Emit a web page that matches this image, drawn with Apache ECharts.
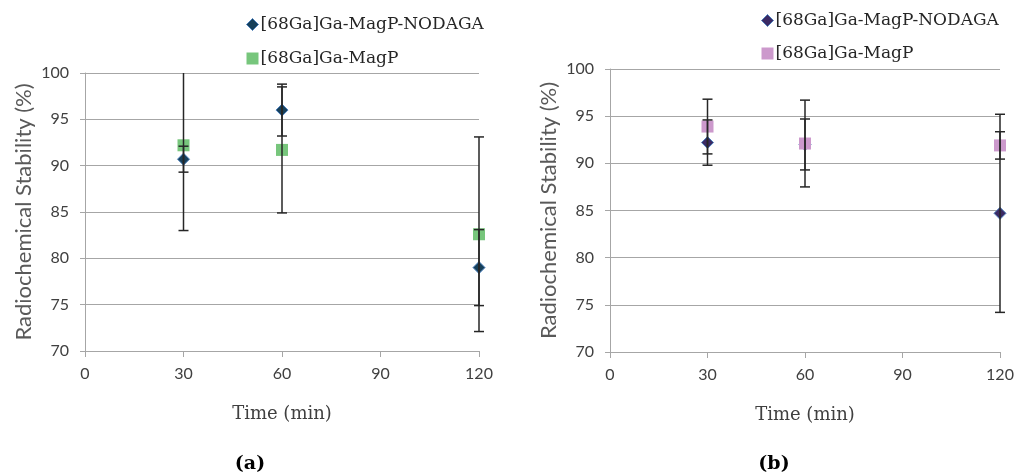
<!DOCTYPE html>
<html>
<head>
<meta charset="utf-8">
<script src="https://cdn.jsdelivr.net/npm/echarts@6/dist/echarts.min.js"></script>
<style>
html,body{margin:0;padding:0;background:#fff;}
#chart{width:1017px;height:476px;}
</style>
</head>
<body>
<div id="chart"></div>
<script>
// ---- data ----
const times = [30, 60, 120];
const xTicks = [0, 30, 60, 90, 120];
const yTicks = [70, 75, 80, 85, 90, 95, 100];
const seriesNames = ['[68Ga]Ga-MagP-NODAGA', '[68Ga]Ga-MagP'];

const aNodaga = [90.7, 96.0, 79.0];
const aNodagaErr = [1.4, 2.8, 4.1];
const aMagP = [92.2, 91.7, 82.6];
const aMagPErr = [9.2, 6.8, 10.5];

const bNodaga = [92.2, 92.0, 84.7];
const bNodagaErr = [2.4, 2.7, 10.5];
const bMagP = [93.9, 92.1, 91.9];
const bMagPErr = [2.9, 4.6, 1.45];

const panelLabels = ['(a)', '(b)'];
const xTitle = 'Time (min)';
const yTitle = 'Radiochemical Stability (%)';

// ---- styles ----
const colors = {
  aNodaga: '#17405a', aMagP: '#77c67c',
  bNodaga: '#3b2a64', bMagP: '#cc99cc',
  outline: '#4a7ebb'
};
const serif = '"DejaVu Serif", "Liberation Serif", serif';
const sans = 'Lato, "Open Sans", sans-serif';

const chart = echarts.init(document.getElementById('chart'));

function pairs(vals) { return times.map((t, i) => [t, vals[i]]); }
function errData(vals, errs) { return times.map((t, i) => [t, vals[i] - errs[i], vals[i] + errs[i]]); }

function errRender(params, api) {
  const x = api.value(0);
  const lo = api.coord([x, api.value(1)]);
  const hi = api.coord([x, api.value(2)]);
  const cs = params.coordSys;
  const top = cs.y, bottom = cs.y + cs.height;
  const yLo = Math.min(lo[1], bottom), yHi = Math.max(hi[1], top);
  const w = 5;
  const st = {stroke: '#262626', lineWidth: 1.5};
  const children = [{type: 'line', shape: {x1: lo[0], y1: yLo, x2: lo[0], y2: yHi}, style: st}];
  if (lo[1] <= bottom) children.push({type: 'line', shape: {x1: lo[0] - w, y1: lo[1], x2: lo[0] + w, y2: lo[1]}, style: st});
  if (hi[1] >= top) children.push({type: 'line', shape: {x1: hi[0] - w, y1: hi[1], x2: hi[0] + w, y2: hi[1]}, style: st});
  return {type: 'group', children};
}

const grids = [
  {left: 85, top: 73, width: 394, height: 278},
  {left: 610, top: 69, width: 390, height: 283}
];

function xAxis(gi) {
  return {
    type: 'value', gridIndex: gi, min: xTicks[0], max: xTicks[xTicks.length - 1], interval: 30,
    name: xTitle, nameLocation: 'middle', nameGap: 54,
    nameTextStyle: {fontFamily: serif, fontSize: 18, color: '#404040'},
    axisLine: {show: true, lineStyle: {color: '#a6a6a6', width: 1}},
    axisTick: {show: true, inside: false, length: 6, lineStyle: {color: '#a6a6a6'}},
    axisLabel: {color: '#404040', fontFamily: sans, fontSize: 16, margin: 15},
    splitLine: {show: false}
  };
}
function yAxis(gi) {
  return {
    type: 'value', gridIndex: gi, min: yTicks[0], max: yTicks[yTicks.length - 1], interval: 5,
    name: yTitle, nameLocation: 'middle', nameGap: 50,
    nameTextStyle: {fontFamily: sans, fontSize: 22, color: '#595959'},
    axisLine: {show: true, lineStyle: {color: '#a6a6a6', width: 1}},
    axisTick: {show: true, inside: false, length: 5, lineStyle: {color: '#a6a6a6'}},
    axisLabel: {color: '#404040', fontFamily: sans, fontSize: 16, margin: 16},
    splitLine: {show: true, lineStyle: {color: '#a6a6a6', width: 1}}
  };
}

function legend(left, top, gap, c1, c2) {
  return {
    orient: 'vertical', left: left, top: top, itemGap: gap, itemWidth: 12, itemHeight: 12,
    selectedMode: false,
    textStyle: {fontFamily: serif, fontSize: 17, color: '#262626', padding: [0, 0, 0, -3]},
    data: [
      {name: seriesNames[0], icon: 'diamond', itemStyle: {color: c1, borderColor: colors.outline, borderWidth: 1}},
      {name: seriesNames[1], icon: 'rect', itemStyle: {color: c2, borderWidth: 0}}
    ]
  };
}

const option = {
  animation: false,
  backgroundColor: '#fff',
  grid: grids,
  xAxis: [xAxis(0), xAxis(1)],
  yAxis: [yAxis(0), yAxis(1)],
  legend: [legend(241, 11, 17, colors.aNodaga, colors.aMagP), legend(756, 7, 16, colors.bNodaga, colors.bMagP)],
  graphic: [
    {type: 'text', x: 250, y: 464, style: {text: panelLabels[0], font: 'bold 19px ' + serif, fill: '#000', align: 'center', verticalAlign: 'middle'}},
    {type: 'text', x: 774, y: 464, style: {text: panelLabels[1], font: 'bold 19px ' + serif, fill: '#000', align: 'center', verticalAlign: 'middle'}}
  ],
  series: [
    {name: seriesNames[0], type: 'scatter', xAxisIndex: 0, yAxisIndex: 0, symbol: 'diamond', symbolSize: 12,
     itemStyle: {color: colors.aNodaga, borderColor: colors.outline, borderWidth: 1, opacity: 1}, data: pairs(aNodaga), z: 3},
    {name: seriesNames[1], type: 'scatter', xAxisIndex: 0, yAxisIndex: 0, symbol: 'rect', symbolSize: 12,
     itemStyle: {color: colors.aMagP, opacity: 1}, data: pairs(aMagP), z: 4},
    {name: seriesNames[0], type: 'scatter', xAxisIndex: 1, yAxisIndex: 1, symbol: 'diamond', symbolSize: 12,
     itemStyle: {color: colors.bNodaga, borderColor: colors.outline, borderWidth: 1, opacity: 1}, data: pairs(bNodaga), z: 3},
    {name: seriesNames[1], type: 'scatter', xAxisIndex: 1, yAxisIndex: 1, symbol: 'rect', symbolSize: 12,
     itemStyle: {color: colors.bMagP, opacity: 1}, data: pairs(bMagP), z: 4},
    {type: 'custom', xAxisIndex: 0, yAxisIndex: 0, renderItem: errRender, data: errData(aNodaga, aNodagaErr), z: 5, silent: true},
    {type: 'custom', xAxisIndex: 0, yAxisIndex: 0, renderItem: errRender, data: errData(aMagP, aMagPErr), z: 5, silent: true},
    {type: 'custom', xAxisIndex: 1, yAxisIndex: 1, renderItem: errRender, data: errData(bNodaga, bNodagaErr), z: 5, silent: true},
    {type: 'custom', xAxisIndex: 1, yAxisIndex: 1, renderItem: errRender, data: errData(bMagP, bMagPErr), z: 5, silent: true}
  ]
};
chart.setOption(option);
</script>
</body>
</html>
